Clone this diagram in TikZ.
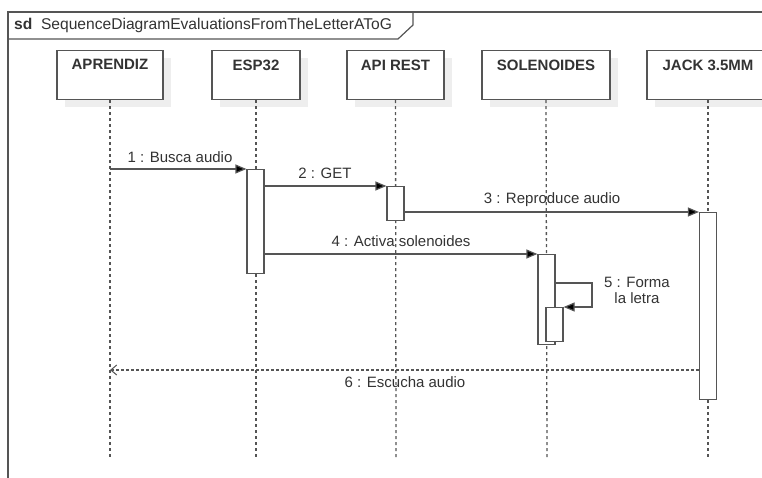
\documentclass[tikz,border=0pt]{standalone}
\usepackage{fontspec}
\setmainfont{Liberation Sans}
\usetikzlibrary{arrows.meta}
\definecolor{ln}{HTML}{555555}
\definecolor{tx}{HTML}{333333}
\definecolor{shd}{HTML}{EEEEEE}
\tikzset{
  lbox/.style={draw=ln,line width=1.2pt,fill=white,minimum width=#1,minimum height=49pt,inner sep=0pt,anchor=north},
  ltext/.style={text=tx,font=\bfseries\fontsize{15}{17}\selectfont,anchor=north},
  life/.style={draw=ln,line width=1.3pt,dash pattern=on 3pt off 3pt},
  act/.style={draw=ln,line width=1.2pt,fill=white,minimum width=17pt,inner sep=0pt,anchor=north},
  msg/.style={draw=ln,line width=1.2pt,-{Triangle[length=11pt,width=9pt,fill=black]}},
  ret/.style={draw=ln,line width=1.2pt,dash pattern=on 3pt off 2pt,-{Straight Barb[length=6pt,width=10pt,line width=1pt]}},
  mtext/.style={text=tx,font=\fontsize{15}{17}\selectfont,inner sep=0pt},
}
\begin{document}
\begin{tikzpicture}[x=1pt,y=-1pt]
\useasboundingbox (0,0) rectangle (762,478);
% frame
\draw[ln,line width=1.2pt] (8,478) -- (8,12) -- (762,12);
\draw[ln,line width=1.2pt] (8,39) -- (398,39) -- (413,25) -- (413,12);
\node[mtext,anchor=west,font=\fontsize{15.6}{17}\selectfont] (title) at (14,25.5) {\textbf{sd}\ \ SequenceDiagramEvaluationsFromTheLetterAToG};
% lifeline shadows
\foreach \xa/\xb in {57/163,212/300,347/444,482/610,647/770}
  \fill[shd] (\xa+8,58) rectangle (\xb+8,107);
% lifelines
\coordinate (e1) at (110,457);
\coordinate (e2) at (256,457);
\coordinate (e3) at (396,457);
\coordinate (e4) at (547,457);
\coordinate (e5) at (708,457);
\node[lbox=106pt] (ap) at (110,50) {};
\node[lbox=88pt] (esp) at (256,50) {};
\node[lbox=97pt] (api) at (395.5,50) {};
\node[lbox=128pt] (sol) at (546,50) {};
\node[lbox=122pt] (jack) at (708,50) {};
\node[ltext] at (ap.north) [yshift=-6pt] {APRENDIZ};
\node[ltext] at (esp.north) [yshift=-6pt] {ESP32};
\node[ltext] at (api.north) [yshift=-6pt] {API REST};
\node[ltext] at (sol.north) [yshift=-6pt] {SOLENOIDES};
\node[ltext] at (jack.north) [yshift=-6pt] {JACK 3.5MM};
\draw[life] (ap.south) -- (e1);
\draw[life] (esp.south) -- (e2);
\draw[life] (api.south) -- (e3);
\draw[life] (sol.south) -- (e4);
\draw[life] (jack.south) -- (e5);
% activations
\node[act,minimum height=104pt] (aesp) at (255.5,169) {};
\node[act,minimum height=34pt] (aapi) at (395.5,186) {};
\node[act,minimum height=187pt] (ajack) at (708,212) {};
\node[act,minimum height=90pt] (asol) at (546.5,254) {};
\node[act,minimum height=34pt] (asol2) at (554.5,307) {};
% messages
\coordinate (s1) at (110,169);
\draw[msg] (s1) -- (aesp.north west);
\node[mtext] at (180,157) {1 : Busca audio};
\draw[msg] (aesp.west |- aapi.north) ++(17,0) -- (aapi.north west);
\node[mtext] at (325,173) {2 : GET};
\draw[msg] (aapi.east |- ajack.north) -- (ajack.north west);
\node[mtext] at (552,200) {3 : Reproduce audio};
\draw[msg] (aesp.east |- asol.north) -- (asol.north west);
\node[mtext] at (401,241) {4 : Activa solenoides};
\coordinate (r1) at (592,283);
\coordinate (r2) at (592,307);
\draw[msg] (asol.east |- r1) -- (r1) -- (r2) -- (asol2.north east);
\node[mtext,align=center,font=\fontsize{15}{16}\selectfont] at (637,290) {5 : Forma\\la letra};
\coordinate (t6) at (110,370);
\draw[ret] (ajack.west |- t6) -- (t6);
\node[mtext] at (405,382) {6 : Escucha audio};
\end{tikzpicture}
\end{document}
